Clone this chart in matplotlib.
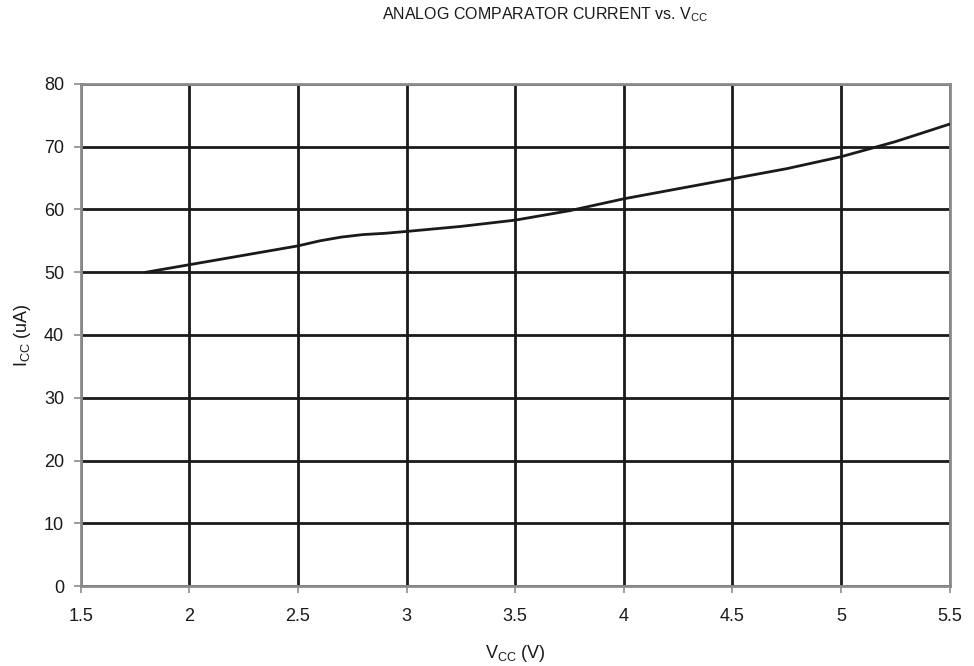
import numpy as np
import matplotlib
matplotlib.use("Agg")
import matplotlib.pyplot as plt

plt.rcParams['font.family'] = 'Liberation Sans'
plt.rcParams['mathtext.fontset'] = 'custom'
plt.rcParams['mathtext.rm'] = 'Liberation Sans'
plt.rcParams['mathtext.it'] = 'Liberation Sans'
plt.rcParams['figure.facecolor'] = 'white'

vcc = [1.8, 2.0, 2.25, 2.5, 2.6, 2.7, 2.8, 2.9, 3.0, 3.25, 3.5, 3.75, 4.0, 4.25, 4.5, 4.75, 5.0, 5.25, 5.5]
icc = [50.0, 51.2, 52.7, 54.2, 55.0, 55.6, 56.0, 56.2, 56.5, 57.3, 58.3, 59.8, 61.7, 63.3, 64.9, 66.5, 68.4, 70.8, 73.6]

xticks = [1.5, 2, 2.5, 3, 3.5, 4, 4.5, 5, 5.5]
xlabels = ['1.5', '2', '2.5', '3', '3.5', '4', '4.5', '5', '5.5']
yticks = [0, 10, 20, 30, 40, 50, 60, 70, 80]

fig = plt.figure(figsize=(9.74, 6.66), dpi=100)
ax = fig.add_axes([0.083, 0.12, 0.892, 0.754])

ax.plot(vcc, icc, color='#1a1a1a', linewidth=2, zorder=3)

ax.set_xlim(1.5, 5.5)
ax.set_ylim(0, 80)
ax.set_xticks(xticks)
ax.set_xticklabels(xlabels)
ax.set_yticks(yticks)
ax.grid(True, color='#1a1a1a', linewidth=2)
ax.set_axisbelow(True)

for s in ax.spines.values():
    s.set_color('#8c8c8c')
    s.set_linewidth(2)
ax.tick_params(direction='out', length=5, width=1.2, color='#8c8c8c',
               labelsize=13, labelcolor='#1a1a1a')
ax.tick_params(axis='x', pad=11)
ax.tick_params(axis='y', pad=7)

ax.set_xlabel(r'V$_{\mathrm{CC}}$ (V)', fontsize=13, color='#1a1a1a', labelpad=13)
ax.set_ylabel(r'I$_{\mathrm{CC}}$ (uA)', fontsize=13, color='#1a1a1a', labelpad=8)

fig.text(0.56, 0.978, r'ANALOG COMPARATOR CURRENT vs. V$_{\mathrm{CC}}$',
         ha='center', va='center', fontsize=11.5, color='#1a1a1a')

fig.savefig('out.png', dpi=100)
